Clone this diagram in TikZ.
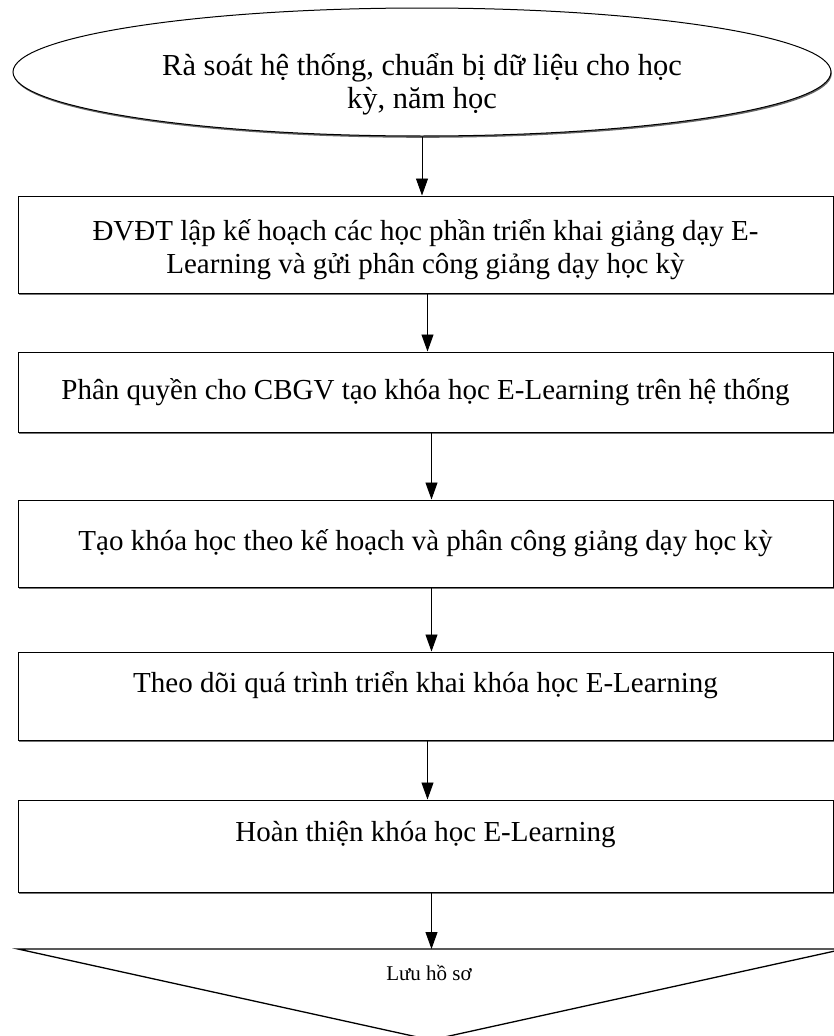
\documentclass[tikz,border=0pt]{standalone}
\usepackage{fontspec}
\setmainfont{Liberation Serif}
\usetikzlibrary{arrows.meta,shapes.geometric,shadows}
\newcommand{\twolines}[3]{\raisebox{#1}[\height][\depth]{\begin{tabular}{@{}c@{}}#2\\#3\end{tabular}}}
\begin{document}
\begin{tikzpicture}[x=1pt,y=1pt,
  boxshape/.style={draw=black, line width=1pt, fill=white,
    minimum width=815pt, inner sep=0pt,
    font=\fontsize{29}{33}\selectfont,
    drop shadow={shadow xshift=1.2pt, shadow yshift=-1.6pt, fill=black!55, opacity=1}},
  oneline/.style={text height=21pt, text depth=#1},
  ovalshape/.style={ellipse, draw=black, line width=1pt, fill=white,
    minimum width=818pt, minimum height=128pt, inner sep=0pt,
    font=\fontsize{30.5}{33}\selectfont,
    drop shadow={shadow xshift=0.8pt, shadow yshift=-1.8pt, fill=black!60, opacity=1}},
  flow/.style={line width=0.9pt, -{Triangle[length=17pt,width=12pt]}},
  smalltext/.style={font=\fontsize{21}{25}\selectfont}
]
\useasboundingbox (0,0) rectangle (833,-1036);

\node[ovalshape] (e) at (422,-72)
  {\twolines{-13pt}{Rà soát hệ thống, chuẩn bị dữ liệu cho học}{kỳ, năm học}};

\node[boxshape, minimum height=97pt] (b1) at (425.5,-244.5)
  {\twolines{-6pt}{ĐVĐT lập kế hoạch các học phần triển khai giảng dạy E-}{Learning và gửi phân công giảng dạy học kỳ}};
\node[boxshape, oneline=7pt, minimum height=80pt] (b2) at (425.5,-392)
  {Phân quyền cho CBGV tạo khóa học E-Learning trên hệ thống};
\node[boxshape, oneline=7pt, minimum height=87pt] (b3) at (425.5,-543.5)
  {Tạo khóa học theo kế hoạch và phân công giảng dạy học kỳ};
\node[boxshape, oneline=28pt, minimum height=88pt] (b4) at (425.5,-696)
  {Theo dõi quá trình triển khai khóa học E-Learning};
\node[boxshape, oneline=31pt, minimum height=92pt] (b5) at (425.5,-846)
  {Hoàn thiện khóa học E-Learning};

% storage triangle
\coordinate (tl) at (18,-949);
\coordinate (tr) at (844,-949);
\coordinate (tb) at (431,-1040);
\draw[line width=1.3pt, line join=miter] (tl) -- (tr) -- (tb) -- cycle;
\node[smalltext] (luu) at (429,-973) {Lưu hồ sơ};

\draw[flow] (e.south) -- (e.south |- b1.north);
\draw[flow] ([xshift=2pt]b1.south) -- ([xshift=2pt]b1.south |- b2.north);
\draw[flow] ([xshift=6pt]b2.south) -- ([xshift=6pt]b2.south |- b3.north);
\draw[flow] ([xshift=6pt]b3.south) -- ([xshift=6pt]b3.south |- b4.north);
\draw[flow] ([xshift=2pt]b4.south) -- ([xshift=2pt]b4.south |- b5.north);
\draw[flow] ([xshift=6pt]b5.south) -- ([xshift=6pt]b5.south |- tl);
\end{tikzpicture}
\end{document}
